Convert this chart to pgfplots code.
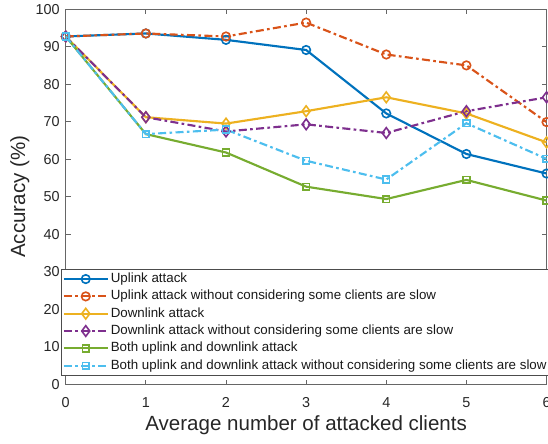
\documentclass[border=0pt]{standalone}
\usepackage{fontspec}
\setmainfont{Liberation Sans}
\usepackage{pgfplots}
\pgfplotsset{compat=1.18}

% MATLAB default line colours
\definecolor{mblue}{rgb}{0,0.447,0.741}
\definecolor{morange}{rgb}{0.85,0.325,0.098}
\definecolor{myellow}{rgb}{0.929,0.694,0.125}
\definecolor{mpurple}{rgb}{0.494,0.184,0.556}
\definecolor{mgreen}{rgb}{0.466,0.674,0.188}
\definecolor{mcyan}{rgb}{0.301,0.745,0.933}

\pgfplotsset{
  dashdot/.style={dash pattern=on 6pt off 2.5pt on 2pt off 2.5pt},
}

\begin{document}
\begin{tikzpicture}
\path[use as bounding box, clip] (-49.3pt,-43.9pt) rectangle (361.7pt,288.4pt);
\begin{axis}[
    scale only axis,
    width=360.6pt, height=281.6pt,
    xmin=0, xmax=6, ymin=0, ymax=100,
    xtick={0,...,6},
    ytick={0,10,...,100},
    tick align=inside,
    major tick length=3.75pt,
    axis line style={black!60, line width=0.6pt},
    every tick/.style={black!60, line width=0.6pt},
    /pgf/number format/assume math mode=true,
    tick label style={font=\fontsize{10.8}{12}\selectfont, text=black!85},
    xticklabel style={yshift=-6pt},
    yticklabel style={xshift=-1pt},
    xlabel={Average number of attacked clients},
    ylabel={Accuracy (\%)},
    label style={font=\fontsize{15.4}{17}\selectfont, text=black!85},
    xlabel style={at={(axis description cs:0.5,-0.1229)}, anchor=base},
    ylabel style={at={(axis description cs:-0.0846,0.5)}, anchor=base},
    every axis plot/.append style={line width=1.6pt},
    legend cell align=left,
    legend style={
      at={(axis description cs:-0.0098,0.0226)}, anchor=south west,
      draw=black!70, line width=0.5pt, fill=white,
      inner sep=1pt,
      font=\fontsize{10}{11}\selectfont,
      text=black!90,
      nodes={inner xsep=1.5pt, inner ysep=2pt, text height=7pt, text depth=2pt},
    },
    legend image code/.code={
      \draw[mark repeat=2,mark phase=2] plot coordinates {(0pt,0pt) (16.5pt,0pt) (33pt,0pt)};
    },
  ]
  \addplot[mblue, mark=o, mark size=3.2pt, mark options={solid, line width=1.2pt}]
    coordinates {(0,92.7) (1,93.5) (2,91.8) (3,89.1) (4,72.2) (5,61.4) (6,56.2)};
  \addlegendentry{Uplink attack}
  \addplot[morange, dashdot, mark=o, mark size=3.2pt, mark options={solid, line width=1.2pt}]
    coordinates {(0,92.7) (1,93.5) (2,92.7) (3,96.4) (4,87.9) (5,85.0) (6,69.9)};
  \addlegendentry{Uplink attack without considering some clients are slow}
  \addplot[myellow, mark=diamond, mark size=4pt, mark options={solid, line width=1.2pt}]
    coordinates {(0,92.7) (1,71.2) (2,69.5) (3,72.8) (4,76.5) (5,72.2) (6,64.5)};
  \addlegendentry{Downlink attack}
  \addplot[mpurple, dashdot, mark=diamond, mark size=4pt, mark options={solid, line width=1.2pt}]
    coordinates {(0,92.7) (1,71.2) (2,67.4) (3,69.3) (4,67.0) (5,72.8) (6,76.5)};
  \addlegendentry{Downlink attack without considering some clients are slow}
  \addplot[mgreen, mark=square, mark size=2.5pt, mark options={solid, line width=1.2pt}]
    coordinates {(0,92.7) (1,66.7) (2,61.8) (3,52.7) (4,49.4) (5,54.5) (6,49.0)};
  \addlegendentry{Both uplink and downlink attack}
  \addplot[mcyan, dashdot, mark=square, mark size=2.5pt, mark options={solid, line width=1.2pt}]
    coordinates {(0,92.7) (1,66.7) (2,67.9) (3,59.6) (4,54.6) (5,69.6) (6,60.1)};
  \addlegendentry{Both uplink and downlink attack without considering some clients are slow}
\end{axis}
\end{tikzpicture}
\end{document}
